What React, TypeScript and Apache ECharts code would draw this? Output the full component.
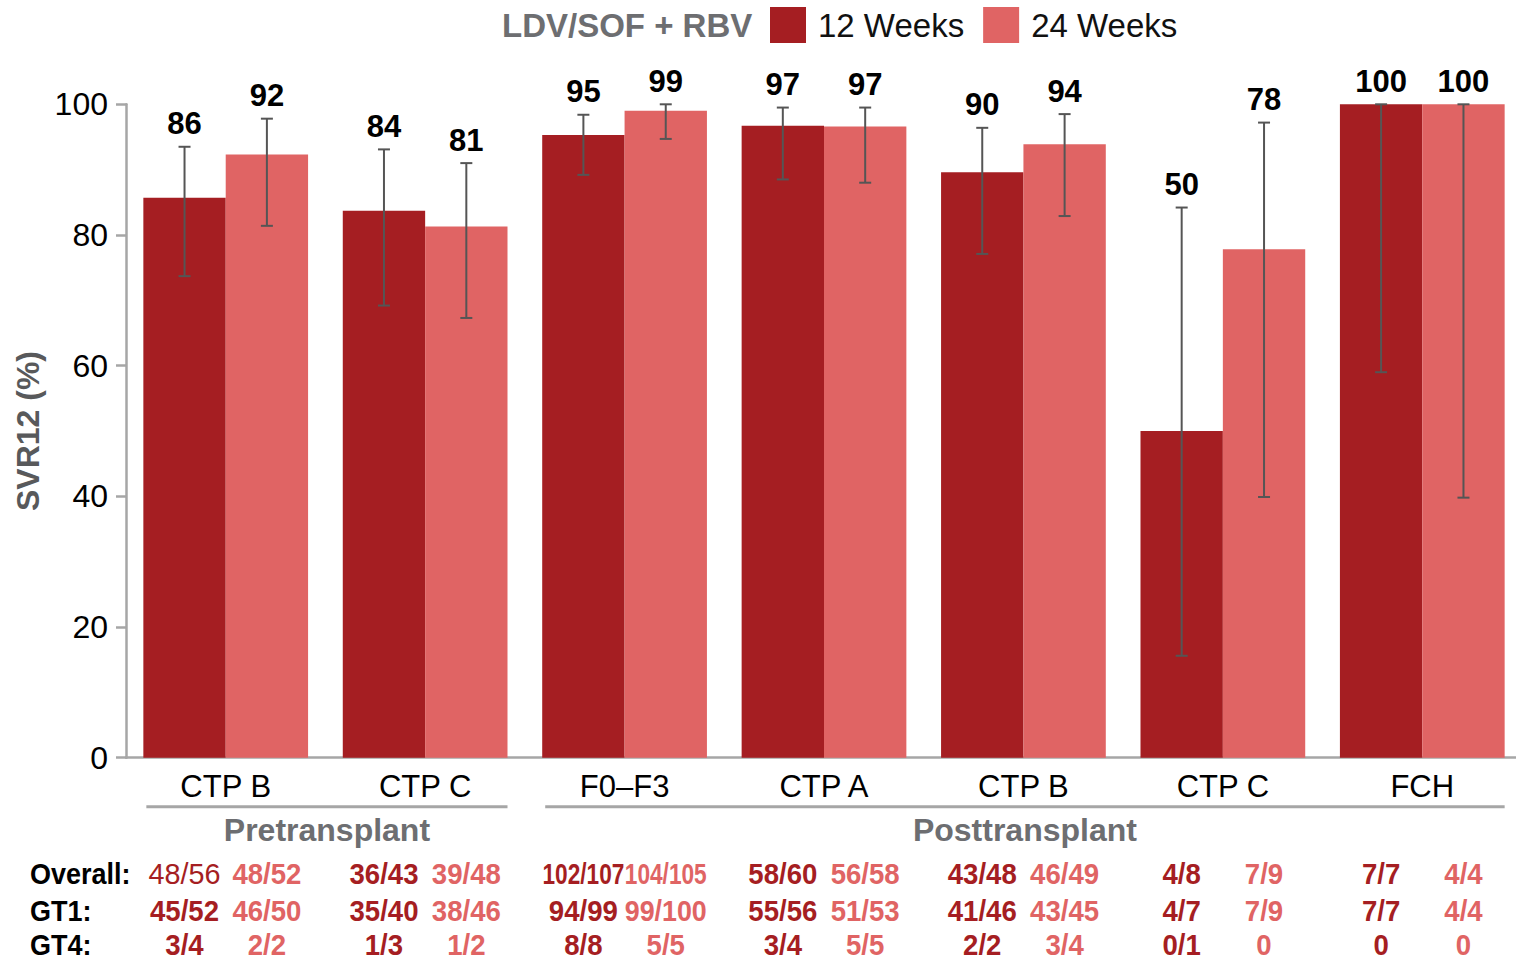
import React, { useEffect, useRef } from "react";
import * as echarts from "echarts";

// ---------- data ----------
const categories = ["CTP B", "CTP C", "F0–F3", "CTP A", "CTP B", "CTP C", "FCH"];
const groupNames = ["Pretransplant", "Posttransplant"];
const groupFrom = [0, 2];
const groupTo = [1, 6];

const seriesNames = ["12 Weeks", "24 Weeks"];
const svr12w = [85.7, 83.7, 95.3, 96.7, 89.6, 50.0, 100];
const svr24w = [92.3, 81.3, 99.0, 96.6, 93.9, 77.8, 100];
const labels12w = ["86", "84", "95", "97", "90", "50", "100"];
const labels24w = ["92", "81", "99", "97", "94", "78", "100"];
const ciLow12w = [73.7, 69.2, 89.2, 88.5, 77.1, 15.6, 59.0];
const ciHigh12w = [93.5, 93.1, 98.4, 99.5, 96.4, 84.2, 100];
const ciLow24w = [81.4, 67.3, 94.7, 88.0, 82.9, 39.9, 39.8];
const ciHigh24w = [97.8, 91.0, 100, 99.5, 98.5, 97.2, 100];

const rowLabels = ["Overall:", "GT1:", "GT4:"];
const overall12w = ["48/56", "36/43", "102/107", "58/60", "43/48", "4/8", "7/7"];
const overall24w = ["48/52", "39/48", "104/105", "56/58", "46/49", "7/9", "4/4"];
const gt1_12w = ["45/52", "35/40", "94/99", "55/56", "41/46", "4/7", "7/7"];
const gt1_24w = ["46/50", "38/46", "99/100", "51/53", "43/45", "7/9", "4/4"];
const gt4_12w = ["3/4", "1/3", "8/8", "3/4", "2/2", "0/1", "0"];
const gt4_24w = ["2/2", "1/2", "5/5", "5/5", "3/4", "0", "0"];

const legendTitle = "LDV/SOF + RBV";
const yTicks = [0, 20, 40, 60, 80, 100];

// ---------- styles ----------
const DARK = "#a51e22";
const LIGHT = "#e06464";
const AXIS = "#a6a6a6";
const GRAYTXT = "#6d6e71";
const FONT = "'Liberation Sans', Arial, Helvetica, sans-serif";
const GAP = 0.174;

function barCenter(api: any, i: number, side: number) {
  const band = api.size([1, 0])[0];
  const bw = (band * (1 - GAP)) / 2;
  const c = api.coord([i, 0]);
  return { x: c[0] + (side * bw) / 2, bw, y0: c[1] };
}

function measure(text: string, font: string) {
  const t = new (echarts.graphic as any).Text({ style: { text, font } });
  return t.getBoundingRect().width;
}

function txt(
  text: string,
  x: number,
  y: number,
  size: number,
  weight: string,
  fill: string,
  align = "center",
  scale = 1,
  maxW = 0
) {
  const font = `${weight} ${size}px ${FONT}`;
  let s = scale;
  if (maxW > 0) {
    const w = measure(text, font);
    if (w * s > maxW) s = maxW / w;
  }
  return {
    type: "text",
    silent: true,
    x,
    y,
    scaleX: s,
    style: {
      text,
      x: 0,
      y: 0,
      fill,
      font,
      lineHeight: Math.round(size * 0.8),
      align,
      textAlign: align,
      verticalAlign: "middle",
      textVerticalAlign: "middle",
    },
  };
}

function errorSeries(low: number[], high: number[], labels: string[], side: number) {
  return {
    type: "custom",
    clip: false,
    z: 5,
    data: categories.map((_, i) => [i, low[i], high[i]]),
    encode: { x: 0, y: [1, 2] },
    renderItem: (params: any, api: any) => {
      const i = api.value(0);
      const { x } = barCenter(api, i, side);
      const yl = api.coord([i, api.value(1)])[1];
      const yh = api.coord([i, api.value(2)])[1];
      const ls = { stroke: "#555555", lineWidth: 2 };
      return {
        type: "group",
        children: [
          { type: "line", shape: { x1: x, y1: yl, x2: x, y2: yh }, style: ls },
          { type: "line", shape: { x1: x - 6, y1: yl, x2: x + 6, y2: yl }, style: ls },
          { type: "line", shape: { x1: x - 6, y1: yh, x2: x + 6, y2: yh }, style: ls },
          txt(labels[params.dataIndex], x, yh - 23, 31, "bold", "#000000"),
        ],
      };
    },
  };
}

const tableRows12 = [overall12w, gt1_12w, gt4_12w];
const tableRows24 = [overall24w, gt1_24w, gt4_24w];
const rowOffsets = [116, 153, 187];

function tableSeries() {
  return {
    type: "custom",
    clip: false,
    z: 5,
    data: categories.map((_, i) => [i, 0]),
    encode: { x: 0, y: 1 },
    renderItem: (params: any, api: any) => {
      const i = api.value(0);
      const children: any[] = [];
      const a = barCenter(api, i, -1);
      const b = barCenter(api, i, 1);
      rowOffsets.forEach((off, r) => {
        const y = a.y0 + off;
        const regular = r === 0 && i === 0;
        children.push(
          txt(tableRows12[r][i], a.x, y, 30, regular ? "normal" : "bold", DARK, "center", regular ? 0.96 : 0.92, 82)
        );
        children.push(txt(tableRows24[r][i], b.x, y, 30, "bold", LIGHT, "center", 0.92, 82));
        if (i === 0) children.push(txt(rowLabels[r], 30, y, 30, "bold", "#000000", "left", 0.9));
      });
      return { type: "group", children };
    },
  };
}

function bracketSeries() {
  return {
    type: "custom",
    clip: false,
    z: 5,
    data: groupNames.map((_, g) => [groupFrom[g], groupTo[g], 0]),
    encode: { x: [0, 1], y: 2 },
    renderItem: (params: any, api: any) => {
      const s = barCenter(api, api.value(0), -1);
      const e = barCenter(api, api.value(1), 1);
      const x1 = s.x - s.bw / 2 + 3;
      const x2 = e.x + e.bw / 2;
      const y = s.y0 + 49;
      return {
        type: "group",
        children: [
          { type: "line", shape: { x1, y1: y, x2, y2: y }, style: { stroke: AXIS, lineWidth: 3 } },
          txt(groupNames[params.dataIndex], (x1 + x2) / 2, y + 23, 32, "bold", GRAYTXT),
        ],
      };
    },
  };
}

export default function App() {
  const ref = useRef<HTMLDivElement>(null);
  useEffect(() => {
    if (!ref.current) return;
    const chart = echarts.init(ref.current, undefined, { renderer: "svg" });
    chart.setOption({
      animation: false,
      textStyle: { fontFamily: FONT },
      title: {
        text: legendTitle,
        left: 502,
        top: 9,
        padding: 0,
        textStyle: { fontSize: 33, fontWeight: "bold", color: GRAYTXT, fontFamily: FONT },
      },
      legend: {
        data: seriesNames,
        left: 770,
        top: 7,
        padding: 0,
        icon: "rect",
        itemWidth: 36,
        itemHeight: 36,
        itemGap: 19,
        selectedMode: false,
        textStyle: { fontSize: 33, color: "#111111", fontFamily: FONT, padding: [0, 0, 0, 7] },
      },
      grid: {
        left: 126,
        top: 104.3,
        width: 1396,
        height: 653.4,
        containLabel: false,
        outerBoundsMode: "none",
      },
      xAxis: {
        type: "category",
        data: categories,
        axisLine: { lineStyle: { color: AXIS, width: 2.5 } },
        axisTick: { show: false },
        axisLabel: { fontSize: 31, color: "#000000", margin: 13, fontFamily: FONT, interval: 0 },
      },
      yAxis: {
        type: "value",
        min: yTicks[0],
        max: yTicks[yTicks.length - 1],
        interval: yTicks[1] - yTicks[0],
        name: "SVR12 (%)",
        nameLocation: "middle",
        nameGap: 82,
        nameTextStyle: { fontSize: 32, fontWeight: "bold", color: "#58595b", fontFamily: FONT },
        axisLine: { show: true, lineStyle: { color: AXIS, width: 2.5 } },
        axisTick: { show: true, length: 10, lineStyle: { color: AXIS, width: 2.5 } },
        axisLabel: { fontSize: 32, color: "#000000", margin: 18, fontFamily: FONT },
        splitLine: { show: false },
      },
      series: [
        {
          name: seriesNames[0],
          type: "bar",
          data: svr12w,
          barGap: "0%",
          barCategoryGap: `${GAP * 100}%`,
          itemStyle: { color: DARK },
          z: 2,
        },
        {
          name: seriesNames[1],
          type: "bar",
          data: svr24w,
          barGap: "0%",
          barCategoryGap: `${GAP * 100}%`,
          itemStyle: { color: LIGHT },
          z: 2,
        },
        errorSeries(ciLow12w, ciHigh12w, labels12w, -1),
        errorSeries(ciLow24w, ciHigh24w, labels24w, 1),
        tableSeries(),
        bracketSeries(),
      ],
    });
    return () => chart.dispose();
  }, []);
  return (
    <div style={{ position: "fixed", left: 0, top: 0, width: 1516, height: 961, overflow: "hidden", background: "#fff" }}>
      <div ref={ref} style={{ width: 1530, height: 961 }} />
    </div>
  );
}
